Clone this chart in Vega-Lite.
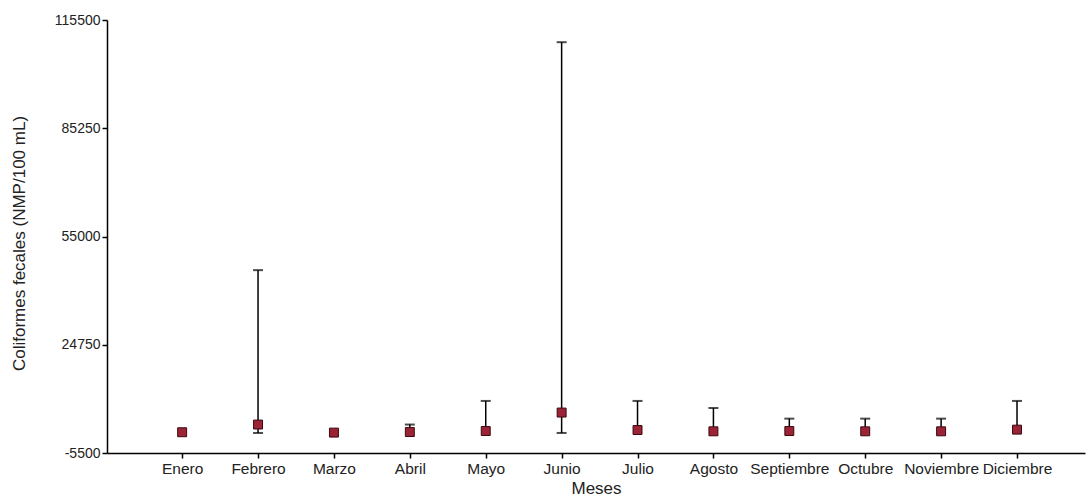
{
  "$schema": "https://vega.github.io/schema/vega-lite/v6.json",
  "width": 978,
  "height": 433,
  "autosize": {"type": "none"},
  "padding": {"left": 107, "top": 20, "right": 3, "bottom": 47},
  "background": "white",
  "config": {
    "view": {"stroke": null},
    "font": "Liberation Sans",
    "axis": {"grid": false, "domainColor": "#000", "tickColor": "#000", "labelColor": "#222", "titleColor": "#222", "labelFont": "Liberation Sans", "titleFont": "Liberation Sans", "titleFontWeight": "normal"}
  },
  "data": {
    "values": [
      {"mes": "Enero", "media": 300, "inf": null, "sup": null},
      {"mes": "Febrero", "media": 2450, "inf": 100, "sup": 45600},
      {"mes": "Marzo", "media": 200, "inf": null, "sup": null},
      {"mes": "Abril", "media": 360, "inf": null, "sup": 2450},
      {"mes": "Mayo", "media": 640, "inf": null, "sup": 9050},
      {"mes": "Junio", "media": 5800, "inf": 100, "sup": 109300},
      {"mes": "Julio", "media": 920, "inf": null, "sup": 9050},
      {"mes": "Agosto", "media": 560, "inf": null, "sup": 7080},
      {"mes": "Septiembre", "media": 640, "inf": null, "sup": 4100},
      {"mes": "Octubre", "media": 560, "inf": null, "sup": 4100},
      {"mes": "Noviembre", "media": 560, "inf": null, "sup": 4100},
      {"mes": "Diciembre", "media": 1030, "inf": null, "sup": 9050}
    ]
  },
  "encoding": {
    "x": {
      "field": "mes", "type": "nominal", "sort": null,
      "scale": {"type": "point", "padding": 0.943, "align": 0.525},
      "axis": {"title": "Meses", "labelAngle": 0, "labelFontSize": 15.5, "titleFontSize": 17, "tickSize": 5, "labelPadding": 3, "titlePadding": 4, "domainWidth": 1.5, "tickWidth": 1.5, "labelOverlap": false}
    }
  },
  "layer": [
    {
      "mark": {"type": "rule", "color": "#000", "strokeWidth": 1.5},
      "encoding": {
        "y": {"field": "media", "type": "quantitative",
          "scale": {"domain": [-5500, 115500], "nice": false, "zero": false},
          "axis": {"title": "Coliformes fecales (NMP/100 mL)", "values": [-5500, 24750, 55000, 85250, 115500], "labelFontSize": 14, "titleFontSize": 17, "titleY": 223, "tickSize": 5, "labelPadding": 2, "titlePadding": 26, "domainWidth": 1.5, "tickWidth": 1.5, "labelExpr": "'' + datum.value"}},
        "y2": {"field": "sup"}
      }
    },
    {
      "mark": {"type": "rule", "color": "#000", "strokeWidth": 1.5},
      "encoding": {
        "y": {"field": "inf", "type": "quantitative"},
        "y2": {"field": "media"}
      }
    },
    {
      "mark": {"type": "tick", "color": "#000", "size": 10, "thickness": 2, "orient": "horizontal"},
      "encoding": {"y": {"field": "sup", "type": "quantitative"}}
    },
    {
      "mark": {"type": "tick", "color": "#000", "size": 10, "thickness": 2, "orient": "horizontal"},
      "encoding": {"y": {"field": "inf", "type": "quantitative"}}
    },
    {
      "mark": {"type": "point", "shape": "square", "filled": true, "size": 80, "color": "#9b2335", "stroke": "#3a0a10", "strokeWidth": 1, "opacity": 1},
      "encoding": {"y": {"field": "media", "type": "quantitative"}}
    }
  ]
}
